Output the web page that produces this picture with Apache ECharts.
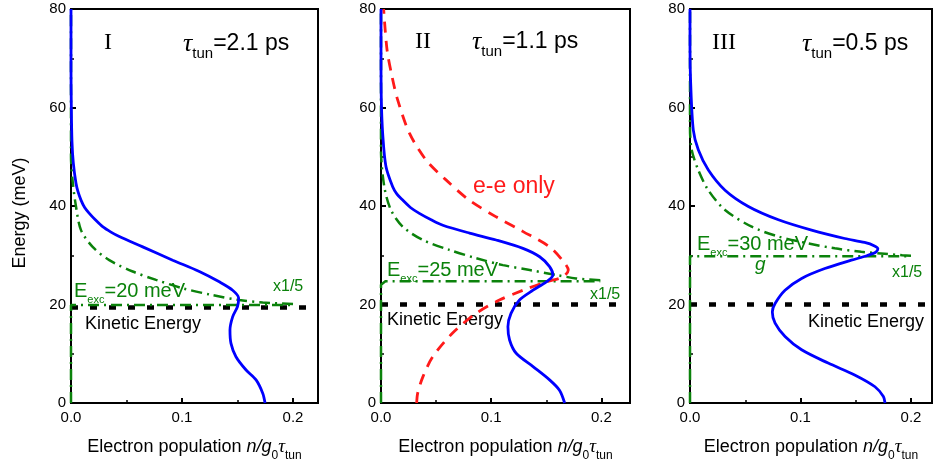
<!DOCTYPE html>
<html>
<head>
<meta charset="utf-8">
<script src="https://cdn.jsdelivr.net/npm/echarts@6/dist/echarts.min.js"></script>
<style>
html, body { margin: 0; padding: 0; background: #fff; }
#main { width: 933px; height: 465px; }
</style>
</head>
<body>
<div id="main"></div>
<script>
// tick values
const energyTicks = [0, 20, 40, 60, 80];
const popTicks = [0, 0.1, 0.2];
const popMax = [0.2225, 0.226, 0.219];

// panel I  (tau_tun = 2.1 ps), points are [population, energy]
const blueI = [[0.1748, 0], [0.1727, 2.0], [0.1667, 4.7], [0.1577, 6.7], [0.1486, 9.4], [0.1441, 12.1],
    [0.1432, 14.8], [0.1456, 17.5], [0.150, 19.6], [0.151, 21.3], [0.1456, 22.9], [0.1336, 24.6],
    [0.1156, 26.7], [0.0916, 29.0], [0.0646, 31.7], [0.0435, 33.8], [0.036, 34.7], [0.0285, 35.8],
    [0.0219, 37.2], [0.0165, 38.5], [0.0123, 39.7], [0.009, 41.2], [0.0063, 42.9], [0.0045, 44.6],
    [0.0021, 48.7], [0.0009, 53], [0.0003, 60], [0, 68], [0, 80]];
const gStepI = [[0, 0], [0, 19.9], [0.2, 19.9]];
const gTailI = [[0.2, 20.1], [0.1727, 20.4], [0.1516, 20.9], [0.1276, 21.9], [0.1006, 23.3],
    [0.0766, 25.0], [0.0556, 26.7], [0.0345, 29.0], [0.0195, 31.7], [0.009, 35.1], [0.0045, 39.9],
    [0.0015, 45], [0, 50], [0, 80]];
const kinI = [[0, 19.4], [0.215, 19.4]];

// panel II (tau_tun = 1.1 ps)
const blueII = [[0.1667, 0], [0.162, 2.6], [0.153, 4.7], [0.138, 7.4], [0.1227, 10.1], [0.1167, 12.8],
    [0.1152, 15.5], [0.118, 18.2], [0.1257, 20.9], [0.138, 22.9], [0.150, 24.6], [0.156, 26.0],
    [0.153, 27.7], [0.144, 29.7], [0.1288, 31.4], [0.1045, 33.1], [0.0803, 34.5], [0.0561, 36.1],
    [0.0455, 37.2], [0.0348, 38.5], [0.0267, 39.7], [0.0197, 41.2], [0.0145, 42.4], [0.0106, 43.9],
    [0.0045, 48], [0.0015, 54.8], [0.0003, 61.5], [0, 70], [0, 80]];
const redII = [[0.0324, 0], [0.0333, 2.0], [0.038, 5.3], [0.047, 9.4], [0.065, 14.2], [0.0864, 18.2],
    [0.1075, 20.9], [0.129, 22.9], [0.150, 24.6], [0.165, 25.6], [0.170, 27.0], [0.1667, 28.4],
    [0.153, 31.7], [0.129, 34.8], [0.1045, 37.8], [0.080, 41.2], [0.059, 45.3], [0.041, 49.3],
    [0.0258, 54.8], [0.0152, 61.5], [0.010, 66.3], [0.0055, 71.7], [0.0024, 80]];
const gStepII = [[0, 0], [0, 24], [0.004, 24.7], [0.199, 24.7]];
const gTailII = [[0.199, 24.9], [0.177, 25.3], [0.159, 26.0], [0.135, 27.0], [0.1106, 28.0],
    [0.0864, 29.4], [0.062, 31.1], [0.038, 33.1], [0.0197, 35.8], [0.009, 39.2], [0.003, 43.9],
    [0, 51.4], [0, 80]];
const kinII = [[0, 20], [0.219, 20]];

// panel III (tau_tun = 0.5 ps)
const blueIII = [[0.1765, 0], [0.175, 1.3], [0.1674, 3.3], [0.149, 5.7], [0.125, 8.1], [0.101, 10.8],
    [0.086, 13.5], [0.077, 16.2], [0.0745, 18.5], [0.077, 20.2], [0.086, 22.9], [0.101, 25.3],
    [0.122, 27.3], [0.146, 29.0], [0.160, 29.9], [0.168, 30.6], [0.170, 31.3], [0.167, 31.9],
    [0.158, 32.6], [0.140, 33.4], [0.110, 35.1], [0.080, 37.2], [0.0528, 39.9], [0.0317, 43.2],
    [0.0166, 47.3], [0.0075, 51.4], [0.003, 55.4], [0.0006, 65], [0, 72], [0, 80]];
const gStepIII = [[0, 0], [0, 29.8], [0.2, 29.8]];
const gTailIII = [[0.2, 29.9], [0.192, 30.0], [0.176, 30.3], [0.155, 30.7], [0.131, 31.4], [0.107, 32.4],
    [0.080, 33.8], [0.0558, 35.8], [0.0317, 39.2], [0.0166, 43.2], [0.0075, 47.3], [0.0015, 51.4],
    [0, 56], [0, 80]];
const kinIII = [[0, 20], [0.225, 20]];

const BLUE = '#0000ff';
const RED = '#ff1a1a';
const GREEN = '#0b820b';
const SANS = 'Arial, "Liberation Sans", sans-serif';
const SERIF = '"Times New Roman", "Liberation Serif", serif';

const grids = [
    { left: 71, top: 9, width: 247, height: 394 },
    { left: 381, top: 9, width: 249, height: 394 },
    { left: 690, top: 9, width: 242, height: 394 }
];

function makeSeries(idx, data, color, width, dash, smooth, z) {
    return {
        type: 'line',
        xAxisIndex: idx,
        yAxisIndex: idx,
        data: data,
        smooth: smooth ? 0.3 : false,
        showSymbol: false,
        symbol: 'none',
        silent: true,
        z: z || 2,
        lineStyle: { color: color, width: width, type: dash || 'solid' }
    };
}

function makeXAxis(idx) {
    return {
        type: 'value',
        gridIndex: idx,
        min: popTicks[0],
        max: popMax[idx],
        interval: popTicks[1] - popTicks[0],
        name: '{a|Electron population }{i|n/g}{s|0}{t|τ}{s|tun}',
        nameLocation: 'middle',
        nameGap: 33,
        nameTextStyle: {
            color: '#000',
            rich: {
                a: { fontFamily: SANS, fontSize: 18, color: '#000', lineHeight: 22 },
                i: { fontFamily: SANS, fontSize: 18, fontStyle: 'italic', color: '#000', lineHeight: 22 },
                t: { fontFamily: SERIF, fontSize: 19, fontStyle: 'italic', color: '#000', lineHeight: 22 },
                s: { fontFamily: SANS, fontSize: 12, color: '#000', verticalAlign: 'bottom', lineHeight: 12, padding: [0, 0, -4, 0] }
            }
        },
        axisLine: { onZero: false, lineStyle: { color: '#000', width: 2 } },
        axisTick: { inside: true, length: 5, lineStyle: { color: '#000', width: 2 } },
        minorTick: { show: true, splitNumber: 2, length: 3, lineStyle: { color: '#000', width: 1.5 } },
        splitLine: { show: false },
        axisLabel: {
            showMaxLabel: false,
            margin: 7,
            color: '#000',
            fontFamily: SANS,
            fontSize: 15,
            formatter: function (v) { return v.toFixed(1); }
        }
    };
}

function makeYAxis(idx) {
    return {
        type: 'value',
        gridIndex: idx,
        min: energyTicks[0],
        max: energyTicks[energyTicks.length - 1],
        interval: energyTicks[1] - energyTicks[0],
        axisLine: { onZero: false, lineStyle: { color: '#000', width: 2 } },
        axisTick: { inside: true, length: 5, lineStyle: { color: '#000', width: 2 } },
        minorTick: { show: true, splitNumber: 2, length: 3, lineStyle: { color: '#000', width: 1.5 } },
        splitLine: { show: false },
        axisLabel: { margin: 5, color: '#000', fontFamily: SANS, fontSize: 15 }
    };
}

// text helpers
function titleText(x, y, value) {
    return {
        type: 'text', x: x, y: y, silent: true,
        style: {
            text: '{t|τ}{s|tun}{a|=' + value + ' ps}',
            verticalAlign: 'middle',
            rich: {
                t: { fontFamily: SERIF, fontStyle: 'italic', fontSize: 26, fill: '#000', lineHeight: 27 },
                a: { fontFamily: SANS, fontSize: 23, fill: '#000', lineHeight: 27 },
                s: { fontFamily: SANS, fontSize: 15, fill: '#000', verticalAlign: 'bottom', lineHeight: 15, padding: [0, 0, -4, 0] }
            }
        }
    };
}

function plainText(x, y, text, color, size, family, style) {
    return {
        type: 'text', x: x, y: y, silent: true,
        style: {
            text: text, fill: color, fontSize: size, fontFamily: family || SANS,
            fontStyle: style || 'normal', verticalAlign: 'middle'
        }
    };
}

function excText(x, y, value) {
    return {
        type: 'text', x: x, y: y, silent: true,
        style: {
            text: '{a|E}{s|exc}{a|=' + value + ' meV}',
            verticalAlign: 'middle',
            rich: {
                a: { fontFamily: SANS, fontSize: 20, fill: GREEN, lineHeight: 22 },
                s: { fontFamily: SANS, fontSize: 11, fill: GREEN, verticalAlign: 'bottom', lineHeight: 11, padding: [0, 0, -3, 0] }
            }
        }
    };
}

function displayChart() {
    var chartDom = document.getElementById('main');
    var myChart = echarts.init(chartDom, null, { renderer: 'canvas' });

    var gridList = grids.map(function (g) {
        return Object.assign({
            show: true, borderColor: '#000', borderWidth: 2, backgroundColor: 'transparent',
            containLabel: false, outerBoundsMode: 'none'
        }, g);
    });

    var dashDot = [11, 5, 2, 5];
    var kinDash = [7, 12];
    var series = [
        makeSeries(0, kinI, '#000', 4.5, kinDash, false, 1),
        makeSeries(0, gStepI, GREEN, 2.5, dashDot, false),
        makeSeries(0, gTailI, GREEN, 2.5, dashDot, true),
        makeSeries(0, blueI, BLUE, 2.8, 'solid', true, 3),

        makeSeries(1, kinII, '#000', 4.5, kinDash, false, 1),
        makeSeries(1, gStepII, GREEN, 2.5, dashDot, false),
        makeSeries(1, gTailII, GREEN, 2.5, dashDot, true),
        makeSeries(1, redII, RED, 2.8, [11, 8], true),
        makeSeries(1, blueII, BLUE, 2.8, 'solid', true, 3),

        makeSeries(2, kinIII, '#000', 4.5, kinDash, false, 1),
        makeSeries(2, gStepIII, GREEN, 2.5, dashDot, false),
        makeSeries(2, gTailIII, GREEN, 2.5, dashDot, true),
        makeSeries(2, blueIII, BLUE, 2.8, 'solid', true, 3)
    ];

    var graphics = [
        {
            type: 'text', x: 20, y: 213, rotation: Math.PI / 2, silent: true,
            style: {
                text: 'Energy (meV)', fill: '#000', fontSize: 18, fontFamily: SANS,
                align: 'center', verticalAlign: 'middle'
            }
        },
        plainText(104, 43, 'I', '#000', 24, SERIF),
        titleText(183, 44, '2.1'),
        excText(74, 291, '20'),
        plainText(273, 287, 'x1/5', GREEN, 16),
        plainText(85, 324, 'Kinetic Energy', '#000', 18),

        plainText(415, 42, 'II', '#000', 24, SERIF),
        titleText(472, 42, '1.1'),
        plainText(473, 187, 'e-e only', RED, 23),
        excText(387, 270, '25'),
        plainText(590, 295, 'x1/5', GREEN, 16),
        plainText(387, 320, 'Kinetic Energy', '#000', 18),

        plainText(712, 43, 'III', '#000', 24, SERIF),
        titleText(802, 44, '0.5'),
        excText(697, 244, '30'),
        plainText(755, 265, 'g', GREEN, 19, SANS, 'italic'),
        plainText(892, 273, 'x1/5', GREEN, 16),
        plainText(808, 322, 'Kinetic Energy', '#000', 18)
    ];

    var option = {
        animation: false,
        backgroundColor: '#fff',
        grid: gridList,
        xAxis: [makeXAxis(0), makeXAxis(1), makeXAxis(2)],
        yAxis: [makeYAxis(0), makeYAxis(1), makeYAxis(2)],
        series: series,
        graphic: graphics
    };
    myChart.setOption(option);
}
displayChart();
</script>
</body>
</html>
